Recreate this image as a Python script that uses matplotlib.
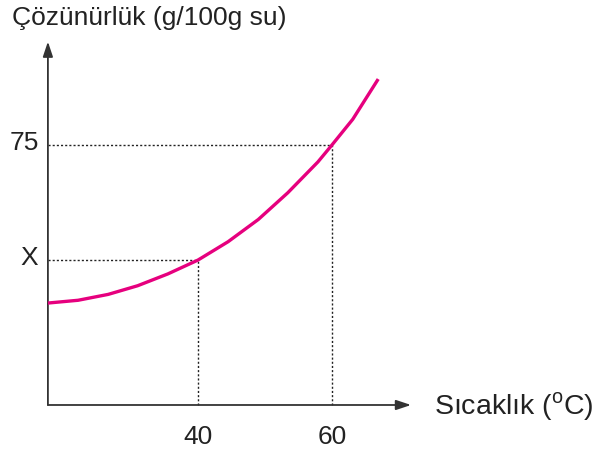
"""
Solubility vs temperature curve (schematic)
"""

import matplotlib
matplotlib.use('Agg')
import matplotlib.pyplot as plt

# curve (temperature, solubility)
temps = [17.6, 22.1, 26.6, 31.0, 35.5, 40.0, 44.5, 49.0, 53.4, 57.9, 60.0, 63.1, 66.9]
solub = [29.4, 30.2, 31.9, 34.4, 37.8, 41.8, 47.1, 53.5, 61.2, 70.1, 75.0, 82.4, 94.0]

# marked points
mark_temps = [40, 60]
mark_solub = [41.8, 75.0]
mark_ylabels = ['X', '75']
mark_xlabels = ['40', '60']

x_origin, y_origin = 17.6, 0.0
x_end, y_end = 71.8, 104.8

plt.rcParams['font.family'] = ['Liberation Sans', 'DejaVu Sans']
plt.rcParams['mathtext.fontset'] = 'custom'
plt.rcParams['mathtext.rm'] = 'Liberation Sans'

###############################################################################

fig = plt.figure(figsize=(6.03, 4.5), dpi=100)
ax = fig.add_axes([0, 0, 1, 1])
ax.set_xlim(10.45, 100.45)
ax.set_ylim(-12.98, 116.8)
ax.axis('off')

axis_color = '#333333'
text_color = '#222222'
arrow = dict(arrowstyle='-|>,head_length=0.9,head_width=0.3',
             color=axis_color, lw=1.3, shrinkA=0, shrinkB=0)
ax.annotate('', xy=(x_end, y_origin), xytext=(x_origin, y_origin), arrowprops=arrow)
ax.annotate('', xy=(x_origin, y_end), xytext=(x_origin, y_origin), arrowprops=arrow)

# dotted guides
for tx, sy in zip(mark_temps, mark_solub):
    ax.plot([x_origin, tx], [sy, sy], color=text_color, lw=1.0, ls=(0, (1.5, 1.5)))
    ax.plot([tx, tx], [y_origin, sy], color=text_color, lw=1.0, ls=(0, (1.5, 1.5)))

ax.plot(temps, solub, color='#E6007E', lw=2.4, solid_capstyle='butt',
        solid_joinstyle='round', zorder=3)

for sy, lab in zip(mark_solub, mark_ylabels):
    ax.text(x_origin - 1.4, sy + 0.6, lab, fontsize=19, ha='right', va='center',
            color=text_color)
for tx, lab in zip(mark_temps, mark_xlabels):
    ax.text(tx, y_origin - 9.3, lab, fontsize=19, ha='center', va='center',
            color=text_color)

ax.text(12.2, 109.6, 'Çözünürlük (g/100g su)', fontsize=19, ha='left', va='baseline',
        color=text_color)
ax.text(75.3, -2.6, r'Sıcaklık ($^{\mathrm{o}}$C)', fontsize=20.5, ha='left', va='baseline',
        color=text_color)

fig.savefig('out.png', dpi=100)
